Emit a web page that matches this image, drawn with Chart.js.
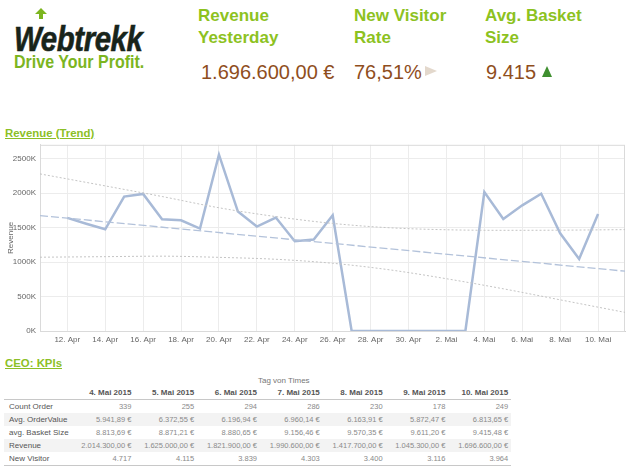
<!DOCTYPE html>
<html>
<head>
<meta charset="utf-8">
<script src="https://cdn.jsdelivr.net/npm/chart.js@4"></script>
<style>
    body { margin: 0; width: 629px; height: 466px; background: #fff; position: relative; overflow: hidden;
           font-family: "Liberation Sans", Arial, sans-serif; }
    .abs { position: absolute; white-space: nowrap; }
    .logo { left: 14px; top: 21px; font-size: 35px; line-height: 35px; font-weight: bold; font-style: italic;
            color: #18241a; transform: scaleX(0.84); transform-origin: left top; letter-spacing: -0.5px;
            -webkit-text-stroke: 0.6px #18241a; }
    .slogan { left: 14px; top: 53px; font-size: 18px; line-height: 18px; font-weight: bold; color: #7cb51f;
              transform: scaleX(0.89); transform-origin: left top; }
    .kpiHead { top: 5px; font-size: 17px; line-height: 22px; font-weight: bold; color: #8dc21f; }
    .kpiVal { top: 62px; font-size: 20px; line-height: 20px; color: #8f4e1d; }
    .section { left: 5px; font-size: 11.4px; line-height: 12px; font-weight: bold; color: #8cbf26; text-decoration: underline; }
    #chartBox { position: absolute; left: 0; top: 136px; width: 629px; height: 216px; }
    #kpiTable { position: absolute; left: 4px; top: 386px; border-collapse: collapse; table-layout: fixed; }
    #kpiTable td, #kpiTable th { height: 13px; line-height: 13px; padding: 0 3px; font-size: 7.5px; color: #8a8a8a;
                                 text-align: right; font-weight: normal; overflow: hidden; white-space: nowrap; }
    #kpiTable th { font-weight: bold; font-size: 8px; color: #555; border-bottom: 1px solid #c8c8c8; }
    #kpiTable td.lbl { text-align: left; font-size: 8px; color: #555; padding-left: 5px; }
    #kpiTable tr.alt td { background: #f3f3f3; }
    #kpiTable tr:last-child td { border-bottom: 1px solid #c8c8c8; }
</style>
</head>
<body>
<svg class="abs" style="left:34px;top:8px" width="14" height="12" viewBox="0 0 14 12">
    <polygon points="7,0 13,6 9,6 9,11 5,11 5,6 1,6" fill="#7cb51f"/>
</svg>
<div class="abs logo">Webtrekk</div>
<div class="abs slogan">Drive Your Profit.</div>

<div class="abs kpiHead" style="left:198px">Revenue<br>Yesterday</div>
<div class="abs kpiHead" style="left:354px">New Visitor<br>Rate</div>
<div class="abs kpiHead" style="left:485px">Avg. Basket<br>Size</div>

<div class="abs kpiVal" style="left:201px">1.696.600,00 €</div>
<div class="abs kpiVal" style="left:354px">76,51%</div>
<div class="abs" style="left:425px;top:66px;width:0;height:0;border-left:12px solid #e3d8cc;border-top:5.5px solid transparent;border-bottom:5.5px solid transparent"></div>
<div class="abs kpiVal" style="left:486px">9.415</div>
<div class="abs" style="left:542px;top:66px;width:0;height:0;border-bottom:11px solid #3f8f2f;border-left:5.5px solid transparent;border-right:5.5px solid transparent"></div>

<div class="abs section" style="top:127px">Revenue (Trend)</div>
<div id="chartBox"><canvas id="graficoRevenue"></canvas></div>

<div class="abs section" style="top:357px">CEO: KPIs</div>
<div class="abs" style="left:258px;top:376px;font-size:8px;color:#777">Tag von Times</div>
<table id="kpiTable"></table>

<script>
// revenue per day, 12. Apr (index 0) to 10. Mai (index 28)
const revenue = [
    1640000, 1555000, 1475000, 1949000, 1988000, 1620000, 1606000, 1486000, 2558000, 1732000,
    1514000, 1645000, 1302000, 1326000, 1678000, 0, 0, 0, 0, 0,
    0, 0, 2014300, 1625000, 1821900, 1990600, 1417700, 1045300, 1696600
];

const tickDays = [0, 2, 4, 6, 8, 10, 12, 14, 16, 18, 20, 22, 24, 26, 28];
const tickLabels = ["12. Apr", "14. Apr", "16. Apr", "18. Apr", "20. Apr", "22. Apr", "24. Apr", "26. Apr",
    "28. Apr", "30. Apr", "2. Mai", "4. Mai", "6. Mai", "8. Mai", "10. Mai"];
const yTicks = [0, 500000, 1000000, 1500000, 2000000, 2500000];

// trend line and its band
const trendDays = [-1.44, 29.42];
const trendValues = [1674000, 867000];
const bandDays = [-1.44, 2, 5, 8, 11, 14, 17, 20, 23, 26, 29.42];
const bandUpper = [2278000, 2104000, 1950000, 1787000, 1659000, 1560000, 1497000, 1468000, 1460000, 1462000, 1470000];
const bandLower = [1070000, 1078000, 1085000, 1068000, 1040000, 982000, 887000, 758000, 612000, 452000, 270000];

// table
const tableDates = ["4. Mai 2015", "5. Mai 2015", "6. Mai 2015", "7. Mai 2015", "8. Mai 2015", "9. Mai 2015", "10. Mai 2015"];
const rowLabels = ["Count Order", "Avg. OrderValue", "avg. Basket Size", "Revenue", "New Visitor"];
const countOrder = ["339", "255", "294", "286", "230", "178", "249"];
const avgOrderValue = ["5.941,89 €", "6.372,55 €", "6.196,94 €", "6.960,14 €", "6.163,91 €", "5.872,47 €", "6.813,65 €"];
const avgBasketSize = ["8.813,69 €", "8.871,21 €", "8.880,65 €", "9.156,46 €", "9.570,35 €", "9.611,20 €", "9.415,48 €"];
const revenueRow = ["2.014.300,00 €", "1.625.000,00 €", "1.821.900,00 €", "1.990.600,00 €", "1.417.700,00 €", "1.045.300,00 €", "1.696.600,00 €"];
const newVisitor = ["4.717", "4.115", "3.839", "4.303", "3.400", "3.116", "3.964"];

const tabela = document.getElementById("kpiTable");
let html = '<colgroup><col style="width:63px">' + tableDates.map(() => '<col style="width:62.8px">').join("") + '</colgroup>';
html += "<tr><th></th>" + tableDates.map(d => "<th>" + d + "</th>").join("") + "</tr>";
[countOrder, avgOrderValue, avgBasketSize, revenueRow, newVisitor].forEach((row, i) => {
    html += '<tr class="' + (i % 2 === 1 ? "alt" : "") + '"><td class="lbl">' + rowLabels[i] + "</td>" +
        row.map(v => "<td>" + v + "</td>").join("") + "</tr>";
});
tabela.innerHTML = html;

const plotBorder = {
    id: "plotBorder",
    beforeDatasetsDraw(chart) {
        const a = chart.chartArea;
        const c = chart.ctx;
        c.save();
        c.strokeStyle = "#dadada";
        c.lineWidth = 1;
        c.strokeRect(a.left + 0.5, a.top + 0.5, a.right - a.left - 1, a.bottom - a.top);
        c.restore();
    }
};

const ctx = document.getElementById("graficoRevenue").getContext("2d");

new Chart(ctx, {
    type: "line",
    data: {
        datasets: [
            {
                label: "Upper",
                data: bandDays.map((d, i) => ({ x: d, y: bandUpper[i] })),
                borderColor: "#c4c4c4",
                borderWidth: 1,
                borderDash: [2, 2],
                pointRadius: 0,
                cubicInterpolationMode: "monotone"
            },
            {
                label: "Lower",
                data: bandDays.map((d, i) => ({ x: d, y: bandLower[i] })),
                borderColor: "#c4c4c4",
                borderWidth: 1,
                borderDash: [2, 2],
                pointRadius: 0,
                cubicInterpolationMode: "monotone"
            },
            {
                label: "Trend",
                data: trendDays.map((d, i) => ({ x: d, y: trendValues[i] })),
                borderColor: "#b3c2da",
                borderWidth: 1.3,
                borderDash: [8, 3],
                pointRadius: 0
            },
            {
                label: "Revenue",
                data: revenue.map((v, i) => ({ x: i, y: v })),
                borderColor: "#a8bad7",
                borderWidth: 2.5,
                pointRadius: 0,
                tension: 0
            }
        ]
    },
    options: {
        responsive: true,
        maintainAspectRatio: false,
        animation: false,
        layout: { padding: { top: 1, right: 4, left: 0, bottom: 0 } },
        plugins: {
            legend: { display: false },
            tooltip: { enabled: false }
        },
        scales: {
            x: {
                type: "linear",
                min: -1.44,
                max: 29.42,
                afterBuildTicks: axis => { axis.ticks = tickDays.map(v => ({ value: v })); },
                afterFit: scale => { scale.height = 21; },
                ticks: {
                    autoSkip: false,
                    maxRotation: 0,
                    padding: 4,
                    color: "#666",
                    font: { size: 8, family: "Liberation Sans" },
                    callback: value => tickLabels[tickDays.indexOf(value)]
                },
                grid: { color: "#ececec", drawTicks: false },
                border: { color: "#cfcfcf" }
            },
            y: {
                min: 0,
                max: 2700000,
                afterBuildTicks: axis => { axis.ticks = yTicks.map(v => ({ value: v })); },
                afterFit: scale => { scale.width = 40; },
                ticks: {
                    padding: 4,
                    color: "#666",
                    font: { size: 8, family: "Liberation Sans" },
                    callback: value => (value / 1000) + "K"
                },
                title: {
                    display: true,
                    text: "Revenue",
                    color: "#666",
                    font: { size: 8, family: "Liberation Sans" },
                    padding: { top: 6, bottom: 0 }
                },
                grid: { color: "#ececec", drawTicks: false },
                border: { color: "#dadada" }
            }
        }
    },
    plugins: [plotBorder]
});
</script>
</body>
</html>
